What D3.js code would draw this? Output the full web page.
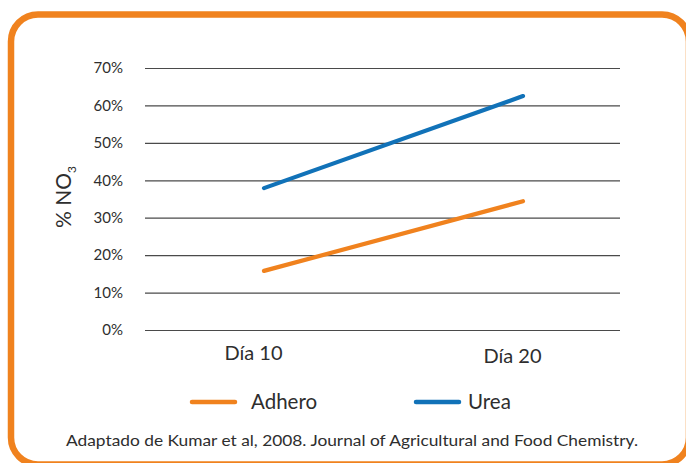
<!DOCTYPE html>
<html><head><meta charset="utf-8">
<script src="https://cdn.jsdelivr.net/npm/d3@7"></script>
<style>html,body{margin:0;padding:0;background:#fff;}svg{display:block;font-family:Lato,"Open Sans",sans-serif;}</style>
</head><body>
<svg id="c" width="686" height="463"></svg>
<script>
const categories = ["Día 10", "Día 20"];
const seriesNames = ["Adhero", "Urea"];
const adhero = [0.158, 0.344];
const urea = [0.379, 0.625];
const yTicks = [0, 0.1, 0.2, 0.3, 0.4, 0.5, 0.6, 0.7];
const colors = ["#F0821E", "#1172B8"];
const caption = "Adaptado de Kumar et al, 2008. Journal of Agricultural and Food Chemistry.";

const svg = d3.select("#c");
const textColor = "#2e2e2e";

// frame
svg.append("rect").attr("x", 11).attr("y", 14.5).attr("width", 678).attr("height", 450)
  .attr("rx", 27).attr("ry", 27).attr("fill", "none").attr("stroke", "#F0821E").attr("stroke-width", 6.5);

const x = d3.scalePoint().domain(categories).range([264, 523]);
const y = d3.scaleLinear().domain([0, 0.7]).range([330, 68]);

// gridlines
const yAxis = d3.axisLeft(y).tickValues(yTicks).tickFormat(d3.format(".0%")).tickSize(-475).tickPadding(22);
const g = svg.append("g").attr("transform", "translate(145,0)").call(yAxis);
g.select(".domain").remove();
g.selectAll(".tick line").attr("stroke", "#4a4a4a").attr("stroke-width", 1.2);
g.selectAll(".tick text").attr("fill", textColor).attr("font-size", 15).attr("font-family", "Lato, sans-serif");

// y label
const yl = svg.append("text").attr("transform", "translate(71,197) rotate(-90)")
  .attr("text-anchor", "middle").attr("fill", textColor).attr("font-size", 21);
yl.append("tspan").text("% NO");
yl.append("tspan").text("3").attr("font-size", 12).attr("dy", 5);

// x labels
svg.selectAll(".xl").data(categories).join("text").attr("class", "xl")
  .attr("x", d => x(d) - 10.5).attr("y", (d, i) => 360 + i * 3)
  .attr("text-anchor", "middle").attr("fill", textColor).attr("font-size", 20).text(d => d);

// lines
const data = [adhero, urea];
const line = d3.line().x((d, i) => x(categories[i])).y(d => y(d));
svg.selectAll(".ln").data(data).join("path").attr("class", "ln")
  .attr("d", d => line(d)).attr("fill", "none")
  .attr("stroke", (d, i) => colors[i]).attr("stroke-width", 4.2).attr("stroke-linecap", "round");

// legend
const legX = [192, 416];
const lg = svg.selectAll(".lg").data(seriesNames).join("g").attr("class", "lg")
  .attr("transform", (d, i) => `translate(${legX[i]},402)`);
lg.append("line").attr("x1", 0).attr("x2", 43).attr("y1", 0).attr("y2", 0)
  .attr("stroke", (d, i) => colors[i]).attr("stroke-width", 4.5).attr("stroke-linecap", "round");
lg.append("text").attr("x", (d, i) => i === 0 ? 59 : 52).attr("y", 7)
  .attr("fill", textColor).attr("font-size", 20.5).text(d => d);

// caption
svg.append("text").attr("x", 66).attr("y", 446).attr("fill", textColor).attr("font-size", 16)
  .attr("textLength", 572).attr("lengthAdjust", "spacingAndGlyphs").text(caption);
</script>
</body></html>
